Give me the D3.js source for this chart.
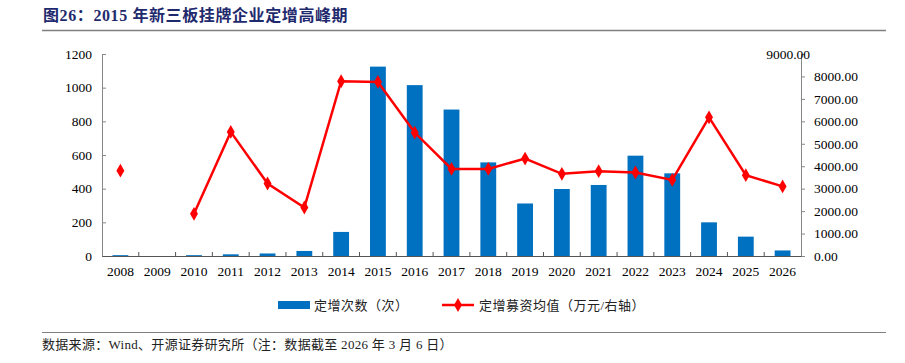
<!DOCTYPE html>
<html><head><meta charset="utf-8">
<script src="https://cdn.jsdelivr.net/npm/d3@7/dist/d3.min.js"></script>
<style>body{margin:0;background:#fff;}svg{display:block;}</style>
</head><body>
<svg id="c" width="905" height="363"></svg>
<script>
const years = ["2008","2009","2010","2011","2012","2013","2014","2015","2016","2017","2018","2019","2020","2021","2022","2023","2024","2025","2026"];
const counts = [5,0,5,10,15,30,143,1125,1015,870,556,312,398,422,596,491,200,115,33];
const avgAmount = [3800,null,1880,5530,3230,2160,7785,7755,5500,3880,3880,4340,3660,3780,3720,3390,6180,3600,3100];
const leftTicks = [0,200,400,600,800,1000,1200];
const rightTicks = [0,1000,2000,3000,4000,5000,6000,7000,8000,9000];

const svg = d3.select("#c");
const serif = "'Liberation Serif','Times New Roman',serif";
const cjk = "'Liberation Serif','Noto Sans CJK SC',serif";
const L = 102, R = 801, T = 54, B = 256;

// title
svg.append("text").attr("x",43).attr("y",21).attr("fill","#1f2a6e")
  .style("font-family","'Liberation Serif','Noto Sans CJK SC'").style("font-weight","bold").style("font-size","16px")
  .style("letter-spacing","0.6px")
  .text("图26：2015 年新三板挂牌企业定增高峰期");
svg.append("line").attr("x1",42).attr("x2",886).attr("y1",30.5).attr("y2",30.5).attr("stroke","#7f7f7f").attr("stroke-width",1.5);
svg.append("line").attr("x1",42).attr("x2",886).attr("y1",332.5).attr("y2",332.5).attr("stroke","#7f7f7f").attr("stroke-width",1.2);
svg.append("text").attr("x",42).attr("y",349).attr("fill","#222")
  .style("font-family",cjk).style("font-size","13px").style("letter-spacing","0.3px")
  .text("数据来源：Wind、开源证券研究所（注：数据截至 2026 年 3 月 6 日）");

const x = d3.scaleBand().domain(years).range([L,R]).paddingInner(0.57).paddingOuter(0.285);
const xb = d3.scaleBand().domain(years).range([L,R]);
const yL = d3.scaleLinear().domain([0,1200]).range([B,T]);
const yR = d3.scaleLinear().domain([0,9000]).range([B,T]);

// bars
svg.append("g").selectAll("rect").data(years).join("rect")
  .attr("x",d=>x(d)).attr("width",x.bandwidth())
  .attr("y",(d,i)=>yL(counts[i])).attr("height",(d,i)=>B-yL(counts[i]))
  .attr("fill","#0070c0");

// left axis
const gl = svg.append("g").attr("transform",`translate(${L},0)`)
  .call(d3.axisLeft(yL).tickValues(leftTicks).tickSize(-4).tickPadding(10).tickFormat(d3.format("d")));
gl.select(".domain").attr("stroke","#888");
gl.selectAll(".tick line").attr("stroke","#888");
gl.selectAll("text").style("font-family",serif).style("font-size","13.5px").attr("fill","#000");

// right axis
const gr = svg.append("g").attr("transform",`translate(${R},0)`)
  .call(d3.axisRight(yR).tickValues(rightTicks).tickSize(4).tickPadding(9).tickFormat(d3.format(".2f")));
gr.select(".domain").attr("stroke","#888");
gr.selectAll(".tick line").attr("stroke","#888");
gr.selectAll("text").style("font-family",serif).style("font-size","13.5px").attr("fill","#000");
gr.selectAll(".tick").filter(d=>d===9000).select("text").attr("text-anchor","end").attr("x",9).attr("dy","0.32em");
gr.selectAll(".tick").filter(d=>d===9000).select("line").remove();

// x axis
const gx = svg.append("g").attr("transform",`translate(0,${B})`)
  .call(d3.axisBottom(xb).tickSize(0).tickPadding(10));
gx.select(".domain").attr("stroke","#555");
gx.selectAll("text").style("font-family",serif).style("font-size","13.5px").attr("fill","#000");
svg.append("g").selectAll("line").data(years.slice(1)).join("line")
  .attr("x1",d=>xb(d)).attr("x2",d=>xb(d)).attr("y1",B).attr("y2",B-4).attr("stroke","#555");

// line
const line = d3.line().defined((d,i)=>avgAmount[i]!==null)
  .x((d,i)=>xb(years[i])+xb.bandwidth()/2).y((d,i)=>yR(avgAmount[i]));
svg.append("path").datum(avgAmount).attr("d",line).attr("fill","none").attr("stroke","#ff0000").attr("stroke-width",2.5);
const diamond = d3.symbol().type(d3.symbolDiamond).size(55);
svg.append("g").selectAll("path").data(years.filter((d,i)=>avgAmount[i]!==null)).join("path")
  .attr("d",diamond)
  .attr("transform",d=>`translate(${xb(d)+xb.bandwidth()/2},${yR(avgAmount[years.indexOf(d)])})`)
  .attr("fill","#ff0000");

// legend
const lg = svg.append("g");
lg.append("rect").attr("x",278).attr("y",301).attr("width",32).attr("height",8).attr("fill","#0070c0");
lg.append("text").attr("x",314).attr("y",310).style("font-family",cjk).style("font-size","13px").style("letter-spacing","0.5px").attr("fill","#222").text("定增次数（次）");
lg.append("line").attr("x1",442).attr("x2",474).attr("y1",305).attr("y2",305).attr("stroke","#ff0000").attr("stroke-width",2.5);
lg.append("path").attr("d",diamond).attr("transform","translate(458,305)").attr("fill","#ff0000");
lg.append("text").attr("x",479).attr("y",310).style("font-family",cjk).style("font-size","13px").style("letter-spacing","0.5px").attr("fill","#222").text("定增募资均值（万元/右轴）");
</script>
</body></html>
